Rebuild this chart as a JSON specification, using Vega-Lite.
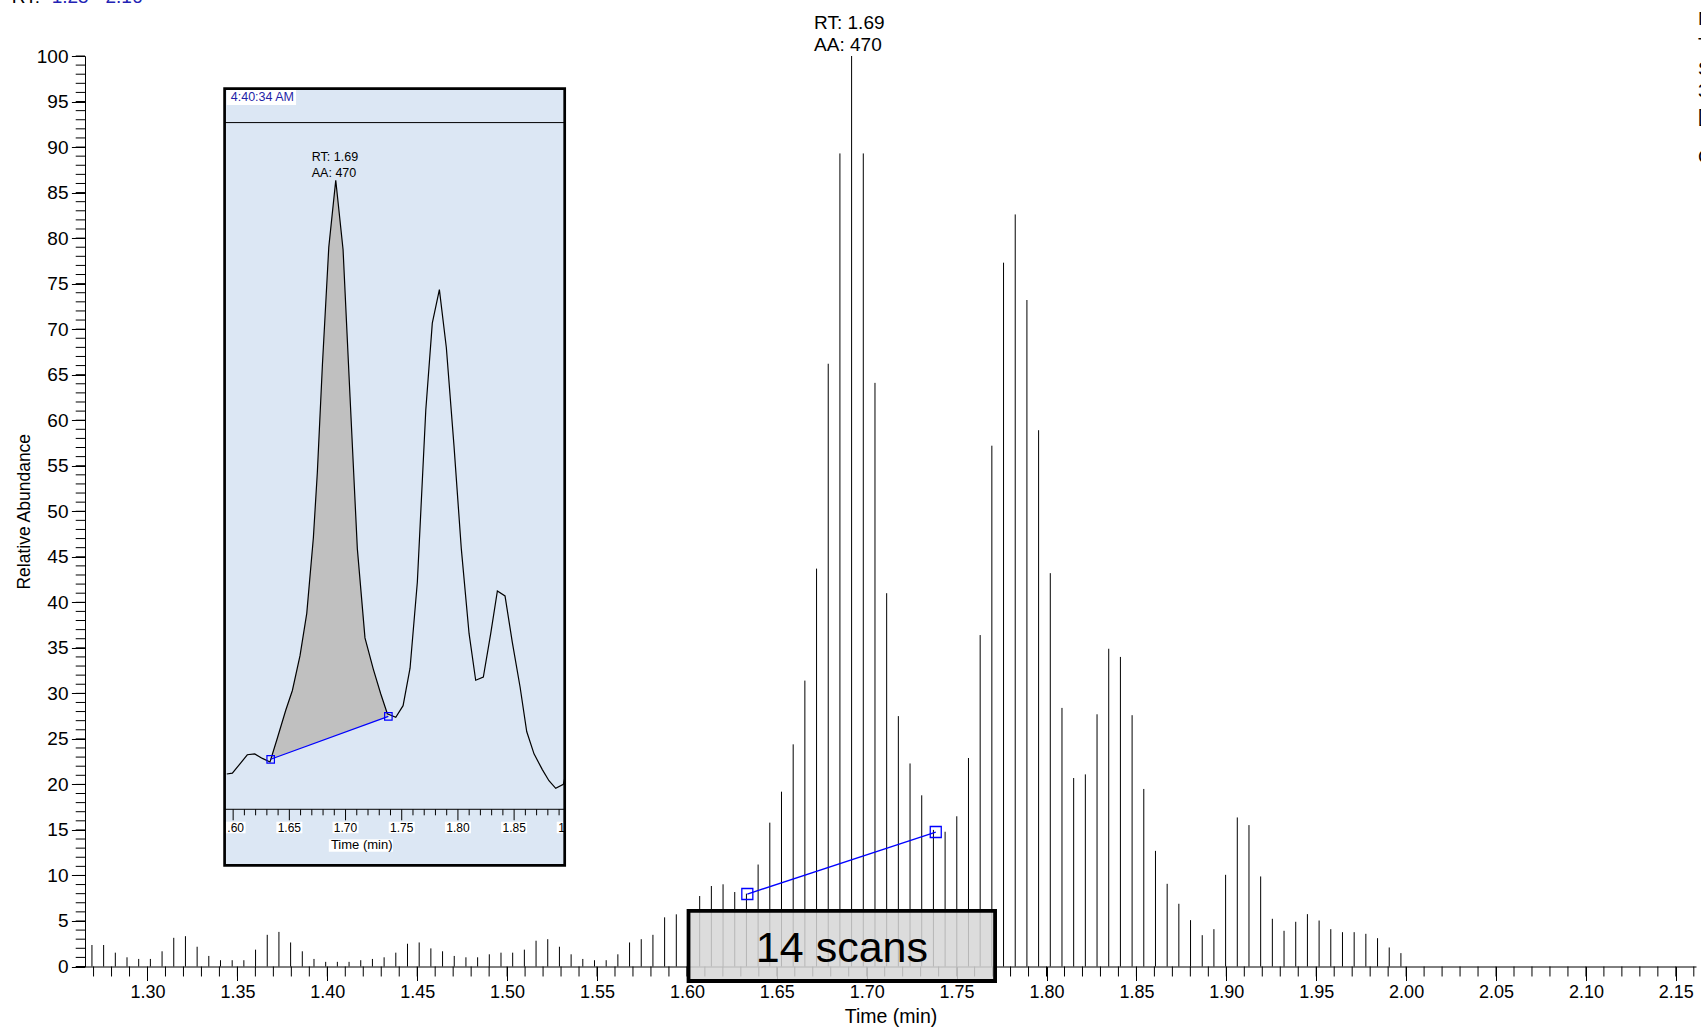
{
"$schema": "https://vega.github.io/schema/vega-lite/v6.json",
"width": 1611, "height": 910.5,
"autosize": "none",
"padding": {"left": 85, "top": 56, "right": 5, "bottom": 62.5},
"background": "white",
"config": {"view": {"stroke": null}, "font": "Liberation Sans", "text": {"font": "Liberation Sans", "color": "#000"}},
"datasets": {
"bars": [{"t":1.2691,"a":2.36},{"t":1.2756,"a":2.36},{"t":1.2821,"a":1.52},{"t":1.2886,"a":1.01},{"t":1.2951,"a":0.83},{"t":1.3016,"a":0.83},{"t":1.3081,"a":1.67},{"t":1.3146,"a":3.15},{"t":1.3211,"a":3.33},{"t":1.3276,"a":2.17},{"t":1.3341,"a":1.16},{"t":1.3406,"a":0.69},{"t":1.3471,"a":0.69},{"t":1.3536,"a":0.69},{"t":1.3601,"a":1.85},{"t":1.3666,"a":3.48},{"t":1.3731,"a":3.8},{"t":1.3796,"a":2.64},{"t":1.3861,"a":1.67},{"t":1.3926,"a":0.83},{"t":1.3991,"a":0.51},{"t":1.4056,"a":0.51},{"t":1.4121,"a":0.51},{"t":1.4186,"a":0.69},{"t":1.4251,"a":0.83},{"t":1.4316,"a":1.01},{"t":1.4381,"a":1.52},{"t":1.4446,"a":2.5},{"t":1.4511,"a":2.64},{"t":1.4576,"a":1.99},{"t":1.4641,"a":1.67},{"t":1.4706,"a":1.16},{"t":1.4771,"a":1.01},{"t":1.4836,"a":1.01},{"t":1.4901,"a":1.34},{"t":1.4966,"a":1.52},{"t":1.5031,"a":1.52},{"t":1.5096,"a":1.85},{"t":1.5161,"a":2.83},{"t":1.5226,"a":3.0},{"t":1.5291,"a":2.17},{"t":1.5356,"a":1.34},{"t":1.5421,"a":0.83},{"t":1.5486,"a":0.69},{"t":1.5551,"a":0.69},{"t":1.5616,"a":1.34},{"t":1.5681,"a":2.64},{"t":1.5746,"a":3.0},{"t":1.5811,"a":3.48},{"t":1.5876,"a":5.4},{"t":1.5941,"a":5.73},{"t":1.6006,"a":6.0},{"t":1.6071,"a":7.74},{"t":1.6136,"a":8.84},{"t":1.6201,"a":9.03},{"t":1.6266,"a":8.18},{"t":1.6331,"a":8.0},{"t":1.6396,"a":11.2},{"t":1.6461,"a":15.8},{"t":1.6526,"a":19.2},{"t":1.6591,"a":24.4},{"t":1.6656,"a":31.4},{"t":1.6721,"a":43.7},{"t":1.6786,"a":66.2},{"t":1.6851,"a":89.3},{"t":1.6916,"a":100},{"t":1.6981,"a":89.3},{"t":1.7046,"a":64.1},{"t":1.7111,"a":41.0},{"t":1.7176,"a":27.5},{"t":1.7241,"a":22.3},{"t":1.7306,"a":18.8},{"t":1.7371,"a":15.0},{"t":1.7436,"a":14.8},{"t":1.7501,"a":16.5},{"t":1.7566,"a":22.9},{"t":1.7631,"a":36.4},{"t":1.7696,"a":57.2},{"t":1.7761,"a":77.3},{"t":1.7826,"a":82.6},{"t":1.7891,"a":73.2},{"t":1.7956,"a":58.9},{"t":1.8021,"a":43.2},{"t":1.8086,"a":28.4},{"t":1.8151,"a":20.7},{"t":1.8216,"a":21.1},{"t":1.8281,"a":27.7},{"t":1.8346,"a":34.9},{"t":1.8411,"a":34.0},{"t":1.8476,"a":27.6},{"t":1.8541,"a":19.5},{"t":1.8606,"a":12.7},{"t":1.8671,"a":9.08},{"t":1.8736,"a":6.89},{"t":1.8801,"a":5.09},{"t":1.8866,"a":3.44},{"t":1.8931,"a":4.1},{"t":1.8996,"a":10.07},{"t":1.9061,"a":16.37},{"t":1.9126,"a":15.53},{"t":1.9191,"a":9.89},{"t":1.9256,"a":5.24},{"t":1.9321,"a":3.92},{"t":1.9386,"a":4.91},{"t":1.9451,"a":5.75},{"t":1.9516,"a":5.05},{"t":1.9581,"a":4.1},{"t":1.9646,"a":3.77},{"t":1.9711,"a":3.77},{"t":1.9776,"a":3.59},{"t":1.9841,"a":3.11},{"t":1.9906,"a":2.09},{"t":1.9971,"a":1.47}],
"xminor": [{"t":1.27},{"t":1.28},{"t":1.29},{"t":1.3},{"t":1.31},{"t":1.32},{"t":1.33},{"t":1.34},{"t":1.35},{"t":1.36},{"t":1.37},{"t":1.38},{"t":1.39},{"t":1.4},{"t":1.41},{"t":1.42},{"t":1.43},{"t":1.44},{"t":1.45},{"t":1.46},{"t":1.47},{"t":1.48},{"t":1.49},{"t":1.5},{"t":1.51},{"t":1.52},{"t":1.53},{"t":1.54},{"t":1.55},{"t":1.56},{"t":1.57},{"t":1.58},{"t":1.59},{"t":1.6},{"t":1.61},{"t":1.62},{"t":1.63},{"t":1.64},{"t":1.65},{"t":1.66},{"t":1.67},{"t":1.68},{"t":1.69},{"t":1.7},{"t":1.71},{"t":1.72},{"t":1.73},{"t":1.74},{"t":1.75},{"t":1.76},{"t":1.77},{"t":1.78},{"t":1.79},{"t":1.8},{"t":1.81},{"t":1.82},{"t":1.83},{"t":1.84},{"t":1.85},{"t":1.86},{"t":1.87},{"t":1.88},{"t":1.89},{"t":1.9},{"t":1.91},{"t":1.92},{"t":1.93},{"t":1.94},{"t":1.95},{"t":1.96},{"t":1.97},{"t":1.98},{"t":1.99},{"t":2.0},{"t":2.01},{"t":2.02},{"t":2.03},{"t":2.04},{"t":2.05},{"t":2.06},{"t":2.07},{"t":2.08},{"t":2.09},{"t":2.1},{"t":2.11},{"t":2.12},{"t":2.13},{"t":2.14},{"t":2.15},{"t":2.16}],
"yminor": [{"a":0},{"a":1},{"a":2},{"a":3},{"a":4},{"a":5},{"a":6},{"a":7},{"a":8},{"a":9},{"a":10},{"a":11},{"a":12},{"a":13},{"a":14},{"a":15},{"a":16},{"a":17},{"a":18},{"a":19},{"a":20},{"a":21},{"a":22},{"a":23},{"a":24},{"a":25},{"a":26},{"a":27},{"a":28},{"a":29},{"a":30},{"a":31},{"a":32},{"a":33},{"a":34},{"a":35},{"a":36},{"a":37},{"a":38},{"a":39},{"a":40},{"a":41},{"a":42},{"a":43},{"a":44},{"a":45},{"a":46},{"a":47},{"a":48},{"a":49},{"a":50},{"a":51},{"a":52},{"a":53},{"a":54},{"a":55},{"a":56},{"a":57},{"a":58},{"a":59},{"a":60},{"a":61},{"a":62},{"a":63},{"a":64},{"a":65},{"a":66},{"a":67},{"a":68},{"a":69},{"a":70},{"a":71},{"a":72},{"a":73},{"a":74},{"a":75},{"a":76},{"a":77},{"a":78},{"a":79},{"a":80},{"a":81},{"a":82},{"a":83},{"a":84},{"a":85},{"a":86},{"a":87},{"a":88},{"a":89},{"a":90},{"a":91},{"a":92},{"a":93},{"a":94},{"a":95},{"a":96},{"a":97},{"a":98},{"a":99},{"a":100}],
"mainbase": [{"t":1.6336,"a":7.96},{"t":1.7384,"a":14.77}],
"peak": [{"t":1.6916,"a":100}],
"rightText": [{"s":"NL: 1.02E6","a":103.41},{"s":"TIC F: MS","a":100.59},{"s":"SIM ms","a":97.92},{"s":"3","a":95.5},{"s":"[","a":92.75},{"s":"C","a":88.25}],
"inset": [{"t":1.5943,"v":5.14},{"t":1.5993,"v":5.27},{"t":1.6068,"v":6.76},{"t":1.6126,"v":7.94},{"t":1.6192,"v":8.07},{"t":1.626,"v":7.41},{"t":1.6328,"v":6.89},{"t":1.6393,"v":10.34},{"t":1.6468,"v":14.43},{"t":1.6527,"v":17.3},{"t":1.6595,"v":22.37},{"t":1.6655,"v":28.54},{"t":1.6714,"v":39.59},{"t":1.6749,"v":49.02},{"t":1.6794,"v":64.63},{"t":1.6851,"v":81.86},{"t":1.6913,"v":91.6},{"t":1.6978,"v":81.52},{"t":1.704,"v":60.07},{"t":1.7105,"v":37.96},{"t":1.7173,"v":24.96},{"t":1.7247,"v":20.42},{"t":1.7313,"v":16.83},{"t":1.7372,"v":13.91},{"t":1.7447,"v":13.4},{"t":1.7512,"v":15.09},{"t":1.7574,"v":20.55},{"t":1.7639,"v":33.09},{"t":1.7714,"v":58.12},{"t":1.7772,"v":70.8},{"t":1.7835,"v":75.68},{"t":1.7897,"v":67.22},{"t":1.7965,"v":52.92},{"t":1.803,"v":37.96},{"t":1.8099,"v":25.61},{"t":1.8158,"v":18.79},{"t":1.8226,"v":19.25},{"t":1.8292,"v":25.61},{"t":1.8351,"v":31.79},{"t":1.8419,"v":31.07},{"t":1.8484,"v":24.32},{"t":1.8553,"v":17.81},{"t":1.8612,"v":11.32},{"t":1.8677,"v":8.07},{"t":1.8751,"v":5.78},{"t":1.881,"v":4.16},{"t":1.887,"v":3.06},{"t":1.8938,"v":3.64},{"t":1.895,"v":4.49}],
"insetArea": [{"t":1.6334,"v":7.28,"b":7.28},{"t":1.6393,"v":10.34,"b":7.63},{"t":1.6468,"v":14.43,"b":8.08},{"t":1.6527,"v":17.3,"b":8.43},{"t":1.6595,"v":22.37,"b":8.84},{"t":1.6655,"v":28.54,"b":9.2},{"t":1.6714,"v":39.59,"b":9.55},{"t":1.6749,"v":49.02,"b":9.76},{"t":1.6794,"v":64.63,"b":10.03},{"t":1.6851,"v":81.86,"b":10.37},{"t":1.6913,"v":91.6,"b":10.74},{"t":1.6978,"v":81.52,"b":11.12},{"t":1.704,"v":60.07,"b":11.49},{"t":1.7105,"v":37.96,"b":11.88},{"t":1.7173,"v":24.96,"b":12.29},{"t":1.7247,"v":20.42,"b":12.73},{"t":1.7313,"v":16.83,"b":13.12},{"t":1.7372,"v":13.91,"b":13.48},{"t":1.7381,"v":13.53,"b":13.53}],
"insetBase": [{"t":1.6334,"v":7.28},{"t":1.7381,"v":13.53}],
"insetPeak": [{"t":1.6913,"v":91.6}],
"iminor": [{"t":1.61},{"t":1.62},{"t":1.63},{"t":1.64},{"t":1.66},{"t":1.67},{"t":1.68},{"t":1.69},{"t":1.71},{"t":1.72},{"t":1.73},{"t":1.74},{"t":1.76},{"t":1.77},{"t":1.78},{"t":1.79},{"t":1.81},{"t":1.82},{"t":1.83},{"t":1.84},{"t":1.86},{"t":1.87},{"t":1.88},{"t":1.89}],
"imajor": [{"t":1.6},{"t":1.65},{"t":1.7},{"t":1.75},{"t":1.8},{"t":1.85}],
"ilabels": [{"t":1.65},{"t":1.7},{"t":1.75},{"t":1.8},{"t":1.85}]
},
"layer": [
{
"layer": [
{"data": {"name": "bars"},
 "mark": {"type": "rule", "color": "#000", "strokeWidth": 1},
 "encoding": {
  "x": {"field": "t", "type": "quantitative", "scale": {"domain": [1.26524, 2.16122], "nice": false, "zero": false},
        "axis": {"values": [1.3,1.35,1.4,1.45,1.5,1.55,1.6,1.65,1.7,1.75,1.8,1.85,1.9,1.95,2.0,2.05,2.1,2.15], "format": ".2f", "tickSize": 14, "tickColor": "#000", "tickWidth": 1, "domainColor": "#000", "domainWidth": 1, "labelColor": "#000", "labelFont": "Liberation Sans", "labelFontSize": 18, "labelPadding": 3, "labelOverlap": false, "labelFlush": false, "grid": false, "title": "Time (min)", "titleFont": "Liberation Sans", "titleFontSize": 19.5, "titleFontWeight": "normal", "titleColor": "#000", "titlePadding": 6}},
  "y": {"field": "a", "type": "quantitative", "scale": {"domain": [0, 100], "nice": false, "zero": false},
        "axis": {"values": [0,5,10,15,20,25,30,35,40,45,50,55,60,65,70,75,80,85,90,95,100], "tickSize": 13.6, "tickColor": "#000", "tickWidth": 1, "domainColor": "#000", "domainWidth": 1, "labelColor": "#000", "labelFont": "Liberation Sans", "labelFontSize": 19, "labelPadding": 3.4, "labelOverlap": false, "grid": false, "title": "Relative Abundance", "titleFont": "Liberation Sans", "titleFontSize": 17.5, "titleFontWeight": "normal", "titleColor": "#000", "titlePadding": 2.5}},
  "y2": {"datum": 0}
 }},
{"data": {"name": "xminor"},
 "mark": {"type": "rule", "color": "#000", "strokeWidth": 1},
 "encoding": {
  "x": {"field": "t", "type": "quantitative", "scale": {"domain": [1.26524, 2.16122], "nice": false, "zero": false}},
  "y": {"datum": 0, "type": "quantitative", "scale": {"domain": [0, 100], "nice": false, "zero": false}},
  "y2": {"datum": -1.098}
 }},
{"data": {"name": "yminor"},
 "mark": {"type": "rule", "color": "#000", "strokeWidth": 1},
 "encoding": {
  "y": {"field": "a", "type": "quantitative", "scale": {"domain": [0, 100], "nice": false, "zero": false}},
  "x": {"datum": 1.26524, "type": "quantitative", "scale": {"domain": [1.26524, 2.16122], "nice": false, "zero": false}},
  "x2": {"datum": 1.26007}
 }},
{"data": {"name": "mainbase"},
 "mark": {"type": "line", "color": "#0000ff", "strokeWidth": 1.3},
 "encoding": {
  "x": {"field": "t", "type": "quantitative", "scale": {"domain": [1.26524, 2.16122], "nice": false, "zero": false}},
  "y": {"field": "a", "type": "quantitative", "scale": {"domain": [0, 100], "nice": false, "zero": false}}
 }},
{"data": {"name": "mainbase"},
 "mark": {"type": "point", "shape": "square", "size": 121, "filled": false, "color": "#0000ff", "strokeWidth": 1.3, "opacity": 1},
 "encoding": {
  "x": {"field": "t", "type": "quantitative", "scale": {"domain": [1.26524, 2.16122], "nice": false, "zero": false}},
  "y": {"field": "a", "type": "quantitative", "scale": {"domain": [0, 100], "nice": false, "zero": false}}
 }},
{"data": {"values": [{}]},
 "mark": {"type": "rect", "fill": "#d6d6d6", "fillOpacity": 0.85, "stroke": "#000", "strokeWidth": 3.8},
 "encoding": {
  "x": {"datum": 1.6009, "type": "quantitative", "scale": {"domain": [1.26524, 2.16122], "nice": false, "zero": false}},
  "x2": {"datum": 1.7714},
  "y": {"datum": 6.1, "type": "quantitative", "scale": {"domain": [0, 100], "nice": false, "zero": false}},
  "y2": {"datum": -1.59}
 }},
{"data": {"values": [{}]},
 "mark": {"type": "text", "text": "14 scans", "fontSize": 43, "align": "center", "baseline": "alphabetic", "color": "#000"},
 "encoding": {
  "x": {"datum": 1.6862, "type": "quantitative", "scale": {"domain": [1.26524, 2.16122], "nice": false, "zero": false}},
  "y": {"datum": 0.53, "type": "quantitative", "scale": {"domain": [0, 100], "nice": false, "zero": false}}
 }},
{"data": {"name": "peak"},
 "mark": {"type": "text", "text": ["RT: 1.69", "AA: 470"], "fontSize": 19, "lineHeight": 21.7, "align": "left", "baseline": "alphabetic", "dx": -37.5, "dy": -26.7, "color": "#000"},
 "encoding": {
  "x": {"field": "t", "type": "quantitative", "scale": {"domain": [1.26524, 2.16122], "nice": false, "zero": false}},
  "y": {"field": "a", "type": "quantitative", "scale": {"domain": [0, 100], "nice": false, "zero": false}}
 }},
{"data": {"values": [{}]},
 "mark": {"type": "text", "text": "RT:", "fontSize": 19, "align": "left", "baseline": "alphabetic", "color": "#000"},
 "encoding": {
  "x": {"datum": 1.2245, "type": "quantitative", "scale": {"domain": [1.26524, 2.16122], "nice": false, "zero": false}},
  "y": {"datum": 105.85, "type": "quantitative", "scale": {"domain": [0, 100], "nice": false, "zero": false}}
 }},
{"data": {"values": [{}]},
 "mark": {"type": "text", "text": "1.25 - 2.16", "fontSize": 19, "align": "left", "baseline": "alphabetic", "color": "#2323b4"},
 "encoding": {
  "x": {"datum": 1.2467, "type": "quantitative", "scale": {"domain": [1.26524, 2.16122], "nice": false, "zero": false}},
  "y": {"datum": 105.85, "type": "quantitative", "scale": {"domain": [0, 100], "nice": false, "zero": false}}
 }},
{"data": {"name": "rightText"},
 "mark": {"type": "text", "fontSize": 19, "align": "left", "baseline": "alphabetic", "color": "#000"},
 "encoding": {
  "text": {"field": "s"},
  "x": {"datum": 2.1624, "type": "quantitative", "scale": {"domain": [1.26524, 2.16122], "nice": false, "zero": false}},
  "y": {"field": "a", "type": "quantitative", "scale": {"domain": [0, 100], "nice": false, "zero": false}}
 }}
]
},
{
"layer": [
{"data": {"values": [{}]},
 "mark": {"type": "rect", "fill": "#dce7f4"},
 "encoding": {
  "x": {"datum": 1.5924, "type": "quantitative", "scale": {"domain": [1.5924, 1.895], "range": [139.6, 479.7], "nice": false, "zero": false}, "axis": null},
  "x2": {"datum": 1.895},
  "y": {"datum": -8.17, "type": "quantitative", "scale": {"domain": [-8.17, 104.95], "range": [809.4, 32.6], "nice": false, "zero": false}, "axis": null},
  "y2": {"datum": 104.95}
 }},
{"data": {"values": [{}]},
 "mark": {"type": "rect", "fill": "#ffffff"},
 "encoding": {
  "x": {"datum": 1.5943, "type": "quantitative", "scale": {"domain": [1.5924, 1.895], "range": [139.6, 479.7], "nice": false, "zero": false}, "axis": null},
  "x2": {"datum": 1.656},
  "y": {"datum": 102.57, "type": "quantitative", "scale": {"domain": [-8.17, 104.95], "range": [809.4, 32.6], "nice": false, "zero": false}, "axis": null},
  "y2": {"datum": 104.75}
 }},
{"data": {"values": [{}]},
 "mark": {"type": "text", "text": "4:40:34 AM", "fontSize": 12.5, "align": "left", "baseline": "alphabetic", "color": "#1f1fa8"},
 "encoding": {
  "x": {"datum": 1.5979, "type": "quantitative", "scale": {"domain": [1.5924, 1.895], "range": [139.6, 479.7], "nice": false, "zero": false}, "axis": null},
  "y": {"datum": 103.15, "type": "quantitative", "scale": {"domain": [-8.17, 104.95], "range": [809.4, 32.6], "nice": false, "zero": false}, "axis": null}
 }},
{"data": {"values": [{}]},
 "mark": {"type": "rule", "color": "#000", "strokeWidth": 1},
 "encoding": {
  "x": {"datum": 1.5924, "type": "quantitative", "scale": {"domain": [1.5924, 1.895], "range": [139.6, 479.7], "nice": false, "zero": false}, "axis": null},
  "x2": {"datum": 1.895},
  "y": {"datum": 100, "type": "quantitative", "scale": {"domain": [-8.17, 104.95], "range": [809.4, 32.6], "nice": false, "zero": false}, "axis": null}
 }},
{"data": {"name": "insetArea"},
 "mark": {"type": "area", "color": "#c0c0c0", "opacity": 1},
 "encoding": {
  "x": {"field": "t", "type": "quantitative", "scale": {"domain": [1.5924, 1.895], "range": [139.6, 479.7], "nice": false, "zero": false}, "axis": null},
  "y": {"field": "v", "type": "quantitative", "scale": {"domain": [-8.17, 104.95], "range": [809.4, 32.6], "nice": false, "zero": false}, "axis": null},
  "y2": {"field": "b"}
 }},
{"data": {"name": "inset"},
 "mark": {"type": "line", "color": "#000", "strokeWidth": 1.2},
 "encoding": {
  "x": {"field": "t", "type": "quantitative", "scale": {"domain": [1.5924, 1.895], "range": [139.6, 479.7], "nice": false, "zero": false}, "axis": null},
  "y": {"field": "v", "type": "quantitative", "scale": {"domain": [-8.17, 104.95], "range": [809.4, 32.6], "nice": false, "zero": false}, "axis": null}
 }},
{"data": {"name": "insetBase"},
 "mark": {"type": "line", "color": "#0000ff", "strokeWidth": 1.2},
 "encoding": {
  "x": {"field": "t", "type": "quantitative", "scale": {"domain": [1.5924, 1.895], "range": [139.6, 479.7], "nice": false, "zero": false}, "axis": null},
  "y": {"field": "v", "type": "quantitative", "scale": {"domain": [-8.17, 104.95], "range": [809.4, 32.6], "nice": false, "zero": false}, "axis": null}
 }},
{"data": {"name": "insetBase"},
 "mark": {"type": "point", "shape": "square", "size": 56, "filled": false, "color": "#0000ff", "strokeWidth": 1.2, "opacity": 1},
 "encoding": {
  "x": {"field": "t", "type": "quantitative", "scale": {"domain": [1.5924, 1.895], "range": [139.6, 479.7], "nice": false, "zero": false}, "axis": null},
  "y": {"field": "v", "type": "quantitative", "scale": {"domain": [-8.17, 104.95], "range": [809.4, 32.6], "nice": false, "zero": false}, "axis": null}
 }},
{"data": {"name": "insetPeak"},
 "mark": {"type": "text", "text": ["RT: 1.69", "AA: 470"], "fontSize": 12.5, "lineHeight": 15.7, "align": "left", "baseline": "alphabetic", "dx": -24, "dy": -19.3, "color": "#000"},
 "encoding": {
  "x": {"field": "t", "type": "quantitative", "scale": {"domain": [1.5924, 1.895], "range": [139.6, 479.7], "nice": false, "zero": false}, "axis": null},
  "y": {"field": "v", "type": "quantitative", "scale": {"domain": [-8.17, 104.95], "range": [809.4, 32.6], "nice": false, "zero": false}, "axis": null}
 }},
{"data": {"values": [{}]},
 "mark": {"type": "rule", "color": "#000", "strokeWidth": 1},
 "encoding": {
  "x": {"datum": 1.5924, "type": "quantitative", "scale": {"domain": [1.5924, 1.895], "range": [139.6, 479.7], "nice": false, "zero": false}, "axis": null},
  "x2": {"datum": 1.895},
  "y": {"datum": 0, "type": "quantitative", "scale": {"domain": [-8.17, 104.95], "range": [809.4, 32.6], "nice": false, "zero": false}, "axis": null}
 }},
{"data": {"name": "iminor"},
 "mark": {"type": "rule", "color": "#000", "strokeWidth": 1},
 "encoding": {
  "x": {"field": "t", "type": "quantitative", "scale": {"domain": [1.5924, 1.895], "range": [139.6, 479.7], "nice": false, "zero": false}, "axis": null},
  "y": {"datum": 0, "type": "quantitative", "scale": {"domain": [-8.17, 104.95], "range": [809.4, 32.6], "nice": false, "zero": false}, "axis": null},
  "y2": {"datum": -0.874}
 }},
{"data": {"name": "imajor"},
 "mark": {"type": "rule", "color": "#000", "strokeWidth": 1},
 "encoding": {
  "x": {"field": "t", "type": "quantitative", "scale": {"domain": [1.5924, 1.895], "range": [139.6, 479.7], "nice": false, "zero": false}, "axis": null},
  "y": {"datum": 0, "type": "quantitative", "scale": {"domain": [-8.17, 104.95], "range": [809.4, 32.6], "nice": false, "zero": false}, "axis": null},
  "y2": {"datum": -1.6}
 }},
{"data": {"name": "ilabels"},
 "mark": {"type": "point", "shape": "M-1,-0.446H1V0.446H-1Z", "size": 676, "filled": true, "color": "#ffffff", "opacity": 1},
 "encoding": {
  "x": {"field": "t", "type": "quantitative", "scale": {"domain": [1.5924, 1.895], "range": [139.6, 479.7], "nice": false, "zero": false}, "axis": null},
  "y": {"datum": -2.65, "type": "quantitative", "scale": {"domain": [-8.17, 104.95], "range": [809.4, 32.6], "nice": false, "zero": false}, "axis": null}
 }},
{"data": {"name": "ilabels"},
 "mark": {"type": "text", "fontSize": 12, "align": "center", "baseline": "alphabetic", "color": "#000"},
 "encoding": {
  "text": {"field": "t", "type": "quantitative", "format": ".2f"},
  "x": {"field": "t", "type": "quantitative", "scale": {"domain": [1.5924, 1.895], "range": [139.6, 479.7], "nice": false, "zero": false}, "axis": null},
  "y": {"datum": -3.26, "type": "quantitative", "scale": {"domain": [-8.17, 104.95], "range": [809.4, 32.6], "nice": false, "zero": false}, "axis": null}
 }},
{"data": {"values": [{}]},
 "mark": {"type": "point", "shape": "M-1,-0.595H1V0.595H-1Z", "size": 380, "filled": true, "color": "#ffffff", "opacity": 1},
 "encoding": {
  "x": {"datum": 1.6024, "type": "quantitative", "scale": {"domain": [1.5924, 1.895], "range": [139.6, 479.7], "nice": false, "zero": false}, "axis": null},
  "y": {"datum": -2.65, "type": "quantitative", "scale": {"domain": [-8.17, 104.95], "range": [809.4, 32.6], "nice": false, "zero": false}, "axis": null}
 }},
{"data": {"values": [{}]},
 "mark": {"type": "text", "text": ".60", "fontSize": 12, "align": "left", "baseline": "alphabetic", "color": "#000"},
 "encoding": {
  "x": {"datum": 1.5948, "type": "quantitative", "scale": {"domain": [1.5924, 1.895], "range": [139.6, 479.7], "nice": false, "zero": false}, "axis": null},
  "y": {"datum": -3.26, "type": "quantitative", "scale": {"domain": [-8.17, 104.95], "range": [809.4, 32.6], "nice": false, "zero": false}, "axis": null}
 }},
{"data": {"values": [{}]},
 "mark": {"type": "point", "shape": "M-1,-1.785H1V1.785H-1Z", "size": 42, "filled": true, "color": "#ffffff", "opacity": 1},
 "encoding": {
  "x": {"datum": 1.8908, "type": "quantitative", "scale": {"domain": [1.5924, 1.895], "range": [139.6, 479.7], "nice": false, "zero": false}, "axis": null},
  "y": {"datum": -2.65, "type": "quantitative", "scale": {"domain": [-8.17, 104.95], "range": [809.4, 32.6], "nice": false, "zero": false}, "axis": null}
 }},
{"data": {"values": [{}]},
 "mark": {"type": "text", "text": "1", "fontSize": 12, "align": "left", "baseline": "alphabetic", "color": "#000"},
 "encoding": {
  "x": {"datum": 1.8893, "type": "quantitative", "scale": {"domain": [1.5924, 1.895], "range": [139.6, 479.7], "nice": false, "zero": false}, "axis": null},
  "y": {"datum": -3.26, "type": "quantitative", "scale": {"domain": [-8.17, 104.95], "range": [809.4, 32.6], "nice": false, "zero": false}, "axis": null}
 }},
{"data": {"values": [{}]},
 "mark": {"type": "point", "shape": "M-1,-0.194H1V0.194H-1Z", "size": 4096, "filled": true, "color": "#ffffff", "opacity": 1},
 "encoding": {
  "x": {"datum": 1.7136, "type": "quantitative", "scale": {"domain": [1.5924, 1.895], "range": [139.6, 479.7], "nice": false, "zero": false}, "axis": null},
  "y": {"datum": -5.27, "type": "quantitative", "scale": {"domain": [-8.17, 104.95], "range": [809.4, 32.6], "nice": false, "zero": false}, "axis": null}
 }},
{"data": {"values": [{}]},
 "mark": {"type": "text", "text": "Time (min)", "fontSize": 13, "align": "center", "baseline": "alphabetic", "color": "#000"},
 "encoding": {
  "x": {"datum": 1.7144, "type": "quantitative", "scale": {"domain": [1.5924, 1.895], "range": [139.6, 479.7], "nice": false, "zero": false}, "axis": null},
  "y": {"datum": -5.78, "type": "quantitative", "scale": {"domain": [-8.17, 104.95], "range": [809.4, 32.6], "nice": false, "zero": false}, "axis": null}
 }},
{"data": {"values": [{}]},
 "mark": {"type": "rect", "filled": false, "stroke": "#000", "strokeWidth": 2.7},
 "encoding": {
  "x": {"datum": 1.5924, "type": "quantitative", "scale": {"domain": [1.5924, 1.895], "range": [139.6, 479.7], "nice": false, "zero": false}, "axis": null},
  "x2": {"datum": 1.895},
  "y": {"datum": -8.17, "type": "quantitative", "scale": {"domain": [-8.17, 104.95], "range": [809.4, 32.6], "nice": false, "zero": false}, "axis": null},
  "y2": {"datum": 104.95}
 }}
]
}
],
"resolve": {"scale": {"x": "independent", "y": "independent"}}
}
